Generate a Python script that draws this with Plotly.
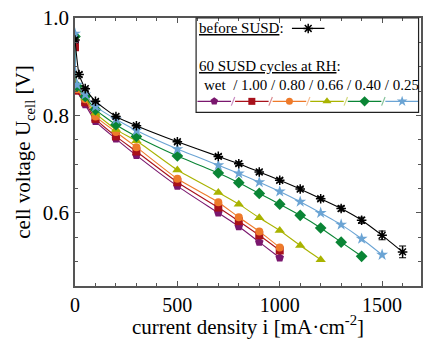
import plotly.graph_objects as go

# ---------------- data ----------------
before_x = [0, 20, 50, 100, 200, 300, 500, 700, 800, 900, 1000, 1100, 1200, 1300, 1400, 1500, 1600]
before_v = [0.955, 0.884, 0.855, 0.829, 0.798, 0.779, 0.746, 0.716, 0.701, 0.684, 0.667, 0.649, 0.629, 0.609, 0.585, 0.554, 0.520]
before_err = [0.004, 0.004, 0.003, 0.003, 0.003, 0.003, 0.003, 0.004, 0.004, 0.004, 0.004, 0.004, 0.004, 0.005, 0.006, 0.009, 0.012]

cur_x = [0, 10, 50, 100, 200, 300, 500, 700, 800, 900, 1000, 1100, 1200, 1300, 1400, 1500]

wet_v = [0.950, 0.851, 0.822, 0.788, 0.752, 0.718, 0.655, 0.600, 0.572, 0.540, 0.508]
rh100_v = [0.940, 0.851, 0.827, 0.793, 0.757, 0.726, 0.663, 0.611, 0.583, 0.554, 0.523]
rh080_v = [0.960, 0.854, 0.833, 0.798, 0.766, 0.735, 0.670, 0.622, 0.591, 0.562, 0.529]
rh066_v = [0.965, 0.857, 0.836, 0.805, 0.771, 0.748, 0.688, 0.642, 0.618, 0.590, 0.564, 0.533, 0.504]
rh040_v = [0.962, 0.860, 0.839, 0.812, 0.781, 0.757, 0.717, 0.682, 0.662, 0.640, 0.618, 0.595, 0.569, 0.540, 0.511]
rh025_v = [0.968, 0.863, 0.843, 0.818, 0.792, 0.769, 0.731, 0.698, 0.681, 0.663, 0.644, 0.623, 0.600, 0.576, 0.547, 0.514]

series_names = ["wet", "1.00", "0.80", "0.66", "0.40", "0.25"]
series_values = [wet_v, rh100_v, rh080_v, rh066_v, rh040_v, rh025_v]
series_colors = ["#7A176E", "#A8111B", "#EE7A2A", "#A9B300", "#0A8535", "#6BA4D4"]
slash_colors = ["#C98BC2", "#DA8A8F", "#F6BE95", "#D4D97F", "#85C29A", "#B5D2EA"]
series_symbols = ["pentagon", "square", "circle", "triangle-up", "diamond", "star"]
series_sizes = [9, 8, 8, 9, 9, 9]
legend_sizes = [8, 7, 7, 8, 8, 8]

FONT = "Liberation Serif"
AX = "#555555"

fig = go.Figure()

for name, vals, col, sym, sz in zip(series_names, series_values, series_colors, series_symbols, series_sizes):
    fig.add_trace(go.Scatter(
        x=cur_x[:len(vals)], y=vals, mode="lines+markers", name=name,
        line=dict(color=col, width=1.1, shape="spline", smoothing=0.5),
        marker=dict(symbol=sym, size=sz, color=col, line=dict(width=0)),
        showlegend=False))

fig.add_trace(go.Scatter(
    x=before_x, y=before_v, mode="lines+markers", name="before SUSD",
    line=dict(color="black", width=1.1, shape="spline", smoothing=0.5),
    marker=dict(symbol="asterisk-open", size=8, color="black", line=dict(width=1.5, color="black")),
    error_y=dict(type="data", array=before_err, thickness=1.1, width=3.5, color="black"),
    showlegend=False))

# ---------------- custom legend (overlay axes in [0,1]) ----------------
row_y = 0.689
seg_w = 0.097
pitch = 0.1086
start = 0.354
shapes = []
for k, (col, sym, sz, scol) in enumerate(zip(series_colors, series_symbols, legend_sizes, slash_colors)):
    x0 = start + k * pitch
    x1 = x0 + seg_w
    fig.add_trace(go.Scatter(
        x=[x0, x1], y=[row_y, row_y], mode="lines", xaxis="x2", yaxis="y2",
        line=dict(color=col, width=1.2), showlegend=False, hoverinfo="skip"))
    fig.add_trace(go.Scatter(
        x=[(x0 + x1) / 2], y=[row_y], mode="markers", xaxis="x2", yaxis="y2",
        marker=dict(symbol=sym, size=sz, color=col, line=dict(width=0)),
        showlegend=False, hoverinfo="skip"))
    if k < len(series_colors) - 1:
        cx = x1 + (pitch - seg_w) / 2
        shapes.append(dict(type="line", xref="paper", yref="paper",
                           x0=cx - 0.005, x1=cx + 0.005, y0=row_y - 0.016, y1=row_y + 0.016,
                           line=dict(color=scol, width=1.2)))

bx0, bx1, by = 0.627, 0.721, 0.961
fig.add_trace(go.Scatter(x=[bx0, bx1], y=[by, by], mode="lines", xaxis="x2", yaxis="y2",
                         line=dict(color="black", width=1.2), showlegend=False, hoverinfo="skip"))
fig.add_trace(go.Scatter(x=[(bx0 + bx1) / 2], y=[by], mode="markers", xaxis="x2", yaxis="y2",
                         marker=dict(symbol="asterisk-open", size=8, color="black",
                                     line=dict(width=1.5, color="black")),
                         showlegend=False, hoverinfo="skip"))

shapes.append(dict(type="rect", xref="paper", yref="paper", x0=0.350, x1=0.993, y0=0.648, y1=1.0,
                   line=dict(color="#222222", width=1.2), fillcolor="rgba(0,0,0,0)", layer="above"))

annotations = [
    dict(text="<u>before SUSD</u>:", x=0.354, y=0.961, xref="paper", yref="paper",
         xanchor="left", yanchor="middle", showarrow=False, font=dict(family=FONT, size=15, color="black")),
    dict(text="<u>60 SUSD cycles at RH</u>:", x=0.354, y=0.820, xref="paper", yref="paper",
         xanchor="left", yanchor="middle", showarrow=False, font=dict(family=FONT, size=15, color="black")),
    dict(text="wet  / " + " / ".join(series_names[1:]), x=0.366, y=0.751, xref="paper", yref="paper",
         xanchor="left", yanchor="middle", showarrow=False, font=dict(family=FONT, size=15, color="black")),
]

fig.update_layout(
    width=424, height=339,
    margin=dict(l=75, r=1, t=18, b=53),
    paper_bgcolor="white", plot_bgcolor="white",
    font=dict(family=FONT, size=21, color="black"),
    xaxis=dict(range=[0, 1690], tickvals=[0, 500, 1000, 1500], ticks="inside", ticklen=5,
               tickwidth=1, tickcolor=AX, showline=True, linecolor=AX, linewidth=1.5, mirror="ticks",
               showgrid=False, zeroline=False, ticklabelstandoff=0,
               tickfont=dict(family=FONT, size=20),
               minor=dict(dtick=100, tick0=0, ticks="inside", ticklen=3, tickcolor=AX, showgrid=False),
               title=dict(text="current density i [mA·cm<sup>-2</sup>]", standoff=7,
                          font=dict(family=FONT, size=21))),
    yaxis=dict(range=[0.45, 1.0], tickvals=[0.6, 0.8, 1.0], ticktext=["0.6", "0.8", "1.0"],
               ticks="inside", ticklen=5, tickwidth=1, tickcolor=AX,
               showline=True, linecolor=AX, linewidth=1.5, mirror="ticks",
               showgrid=False, zeroline=False,
               minor=dict(dtick=0.05, tick0=0.45, ticks="inside", ticklen=3, tickcolor=AX, showgrid=False),
               title=dict(text="cell voltage U<sub>cell</sub> [V]", standoff=6,
                          font=dict(family=FONT, size=21))),
    xaxis2=dict(range=[0, 1], overlaying="x", anchor="y2", visible=False, fixedrange=True),
    yaxis2=dict(range=[0, 1], overlaying="y", anchor="x2", visible=False, fixedrange=True),
    shapes=shapes,
    annotations=annotations,
)

fig.write_html("out.html")
